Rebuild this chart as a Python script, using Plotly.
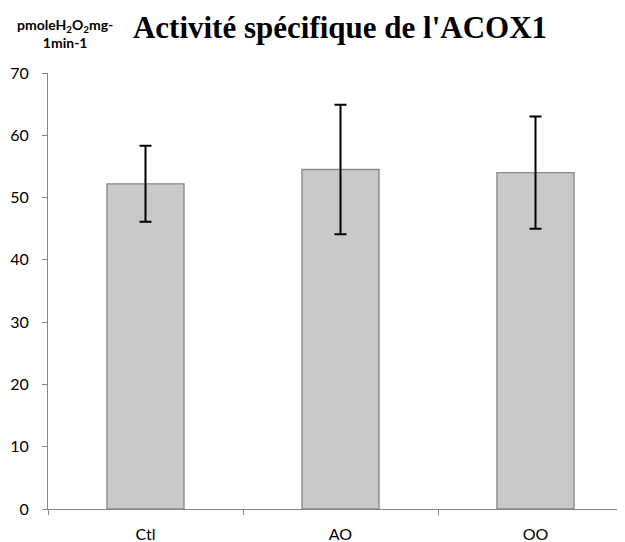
import plotly.graph_objects as go

categories = ["Ctl", "AO", "OO"]
values = [52.2, 54.5, 54.0]
errors = [6.1, 10.4, 9.0]
y_ticks = [0, 10, 20, 30, 40, 50, 60, 70]

fig = go.Figure()
fig.add_trace(go.Bar(
    x=categories,
    y=values,
    marker=dict(color="#c9c9c9", line=dict(color="#8a8a8a", width=1.4)),
    error_y=dict(type="data", array=errors, visible=True, color="black",
                 thickness=2, width=6),
    showlegend=False,
))

fig.update_layout(
    width=617, height=534,
    margin=dict(l=40, r=0, t=65, b=33),
    paper_bgcolor="white", plot_bgcolor="white",
    bargap=0.605,
    title=dict(text="<b>Activité spécifique de l'ACOX1</b>",
               font=dict(family="Times New Roman, Liberation Serif, serif", size=31, color="black"),
               x=332/617, xanchor="center", xref="container",
               y=1 - 19/534, yanchor="middle", yref="container"),
    font=dict(family="Lato", color="black"),
)
fig.update_xaxes(
    range=[-0.5, 2.459],
    showline=True, linecolor="#868686", linewidth=1,
    ticks="outside", ticklen=5, tickcolor="#868686",
    tickson="boundaries",
    tickfont=dict(family="Lato", size=16, color="black"),
    ticklabelstandoff=11,
    showgrid=False, zeroline=False,
)
fig.update_yaxes(
    range=[0, 70], tickvals=y_ticks,
    showline=True, linecolor="#868686", linewidth=1,
    ticks="outside", ticklen=5, tickcolor="#868686",
    tickfont=dict(family="Lato", size=16, color="black"),
    ticklabelstandoff=10,
    showgrid=False, zeroline=False,
)
fig.add_annotation(
    text="<b>pmoleH<sub>2</sub>O<sub>2</sub>mg-<br>1min-1</b>",
    xref="paper", yref="paper", x=17/577, y=1 + 20/436,
    xanchor="center", yanchor="bottom", showarrow=False,
    font=dict(family="Lato", size=14, color="black"), align="center",
)

fig.write_html("out.html")
